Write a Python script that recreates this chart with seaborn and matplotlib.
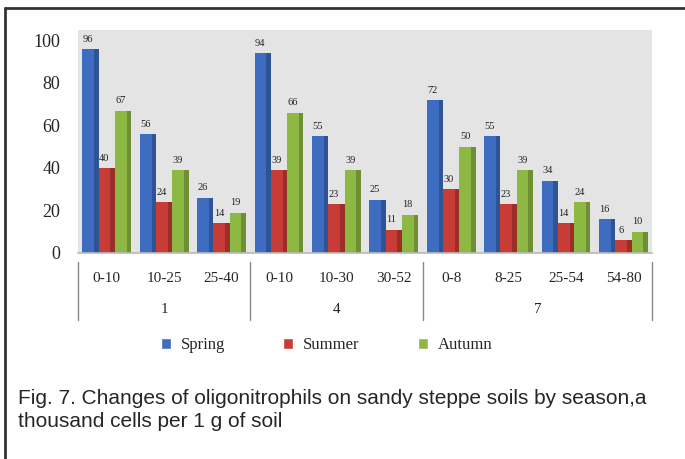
import matplotlib
matplotlib.use("Agg")
import matplotlib.pyplot as plt
import seaborn as sns
import pandas as pd
import numpy as np
from matplotlib.patches import Rectangle
from matplotlib.lines import Line2D

depths = ["0-10", "10-25", "25-40", "0-10", "10-30", "30-52", "0-8", "8-25", "25-54", "54-80"]
groups = ["1", "4", "7"]
group_sizes = [3, 3, 4]
spring = [96, 56, 26, 94, 55, 25, 72, 55, 34, 16]
summer = [40, 24, 14, 39, 23, 11, 30, 23, 14, 6]
autumn = [67, 39, 19, 66, 39, 18, 50, 39, 24, 10]
seasons = ["Spring", "Summer", "Autumn"]
caption = ("Fig. 7. Changes of oligonitrophils on sandy steppe soils by season,a\n"
           "thousand cells per 1 g of soil")

colors = ["#3D6CC0", "#C83C37", "#8DB843"]

rows = []
for i in range(len(depths)):
    for s, vals in zip(seasons, [spring, summer, autumn]):
        rows.append({"pos": i, "season": s, "value": vals[i]})
df = pd.DataFrame(rows)

sns.set_theme(style="white")
plt.rcParams["font.family"] = ["Liberation Serif", "DejaVu Serif"]

fig = plt.figure(figsize=(6.85, 4.59), dpi=100)
fig.patch.set_facecolor("white")
ax = fig.add_axes([0.114, 0.449, 0.838, 0.486])
ax.set_facecolor("#E4E4E4")

sns.barplot(data=df, x="pos", y="value", hue="season", hue_order=seasons,
            palette=colors, width=0.85, ax=ax, legend=False,
            edgecolor="none", saturation=1)

# value labels and simple 3D side shading
for container, col in zip(ax.containers, colors):
    for bar in container:
        h = bar.get_height()
        x0 = bar.get_x(); w = bar.get_width()
        ax.add_patch(Rectangle((x0 + w * 0.72, 0), w * 0.28, h,
                               facecolor="black", alpha=0.22, edgecolor="none"))
        ax.text(x0 + w * 0.35, h + 2.5, f"{int(h)}", ha="center", va="bottom",
                fontsize=7.5, color="#222222")

ax.set_xlim(-0.5, len(depths) - 0.5)
ax.set_ylim(0, 105)
ax.set_yticks([0, 20, 40, 60, 80, 100])
ax.set_yticklabels(["0", "20", "40", "60", "80", "100"], fontsize=13)
ax.tick_params(axis="y", length=0, pad=13)
ax.set_xticks(range(len(depths)))
ax.set_xticklabels(depths, fontsize=11)
ax.tick_params(axis="x", length=0, pad=14)
ax.set_xlabel("")
ax.set_ylabel("")
for sp in ["top", "right", "left"]:
    ax.spines[sp].set_visible(False)
ax.spines["bottom"].set_color("#BBBBBB")

# group separators and labels
trans = ax.get_xaxis_transform()
bounds = [-0.5]
for g in group_sizes:
    bounds.append(bounds[-1] + g)
for b in bounds:
    ax.add_line(Line2D([b, b], [-0.04, -0.30], transform=trans, color="#888888",
                       lw=1, clip_on=False))
for gi, g in enumerate(groups):
    center = (bounds[gi] + bounds[gi + 1]) / 2
    ax.text(center, -0.255, g, transform=trans, ha="center", va="center", fontsize=11)

# legend
handles = [Rectangle((0, 0), 1, 1, facecolor=c) for c in colors]
fig.legend(handles, seasons, loc="center", bbox_to_anchor=(0.477, 0.248), ncol=3,
           frameon=False, fontsize=12, handlelength=0.6, handleheight=0.6,
           columnspacing=3.5, handletextpad=0.6)

fig.text(0.026, 0.062, caption, fontsize=15, family=["Liberation Sans", "DejaVu Sans"],
         ha="left", va="bottom", linespacing=1.25)

# outer border (top and left)
fig.add_artist(Line2D([0.008, 1.0], [0.982, 0.982], transform=fig.transFigure,
                      color="#333333", lw=2))
fig.add_artist(Line2D([0.008, 0.008], [0.0, 0.982], transform=fig.transFigure,
                      color="#333333", lw=2))

fig.savefig("out.png", dpi=100)
